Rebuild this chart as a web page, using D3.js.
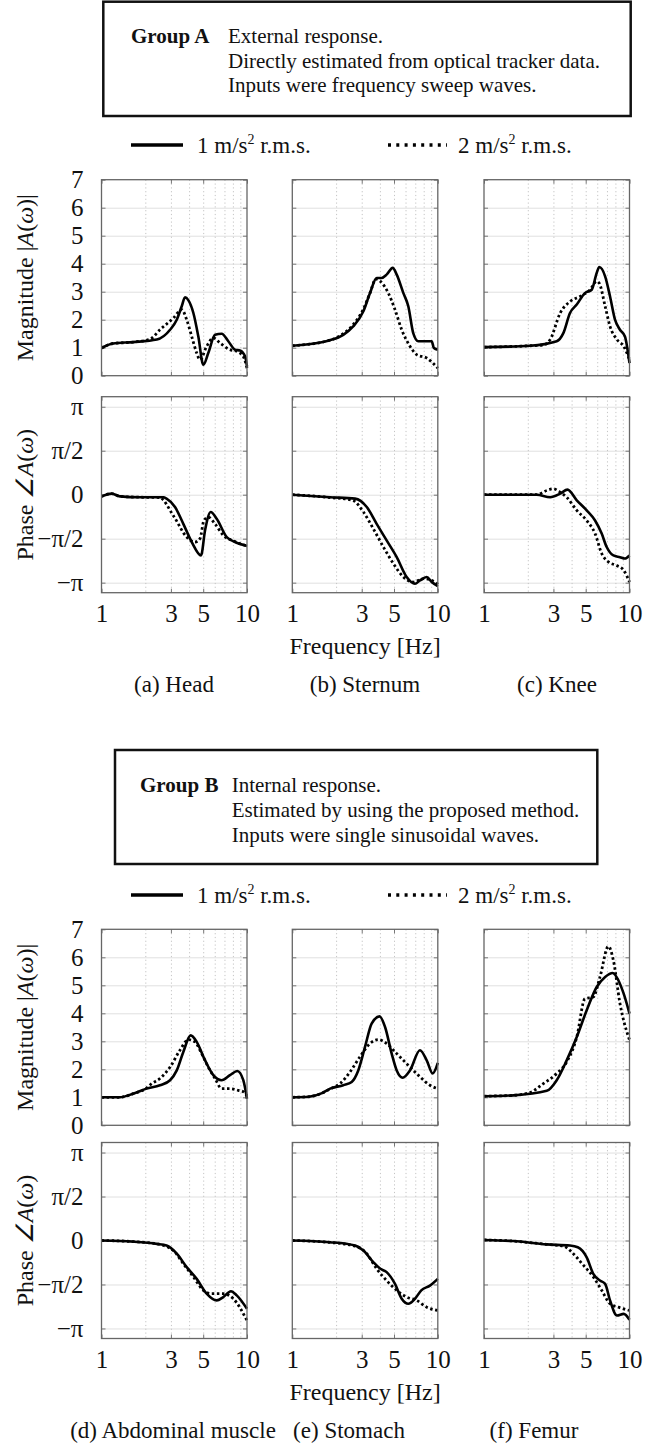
<!DOCTYPE html>
<html>
<head>
<meta charset="utf-8">
<script src="https://d3js.org/d3.v7.min.js"></script>
<style>
  body { margin: 0; background: #fff; }
  svg text { font-family: "Liberation Serif", "Times New Roman", serif; fill: #111; }
  .grid-h line { stroke: #e0e0e0; stroke-width: 1; }
  .grid-v line { stroke: #c4c4c4; stroke-width: 1; stroke-dasharray: 1.2 2.6; }
  .grid-h .domain, .grid-v .domain, .lbl .domain, .tk .domain { stroke: none; }
  .lbl text { font-size: 25px; font-family: "Liberation Serif", serif; }
  .tk line { stroke: #777; }
</style>
</head>
<body>
<svg id="fig" width="657" height="1445"></svg>
<script>
// ---- tick values / labels ----
const freqTicks = [1, 3, 5, 10];
const minorFreqs = [2, 3, 4, 5, 6, 7, 8, 9];
const magTicks = [0, 1, 2, 3, 4, 5, 6, 7];
const phaseTicks = [-Math.PI, -Math.PI / 2, 0, Math.PI / 2, Math.PI];
const phaseTickLabels = ['−π', '−π/2', '0', 'π/2', 'π'];
const seriesLabels = ['1', '2'];   // m/s² r.m.s.

// ---- Group A (external response) [freq Hz, value] ----
const headMag1 = [[1,0.99],[1.2,1.15],[1.65,1.2],[2.4,1.29],[2.96,1.64],[3.29,2.0],[3.56,2.48],[3.75,2.8],[3.95,2.7],[4.28,2.24],[4.63,1.4],[5.01,0.39],[5.42,0.81],[6.03,1.46],[6.7,1.5],[7.44,1.23],[8.27,0.93],[8.95,0.9],[9.7,0.69],[10,0.33]];
const headMag2 = [[1,0.99],[1.2,1.15],[1.65,1.2],[2.15,1.3],[2.52,1.64],[3.12,2.06],[3.56,2.36],[3.85,2.0],[4.17,1.4],[4.51,0.81],[4.75,0.57],[5.28,1.05],[5.87,1.35],[6.52,1.17],[7.64,0.93],[8.5,0.87],[9.43,0.69],[10,0.27]];
const headPh1 = [[1,-0.06],[1.175,0.04],[1.34,-0.06],[1.84,-0.09],[2.66,-0.09],[2.8,-0.14],[3.2,-0.44],[3.65,-1.04],[4.17,-1.69],[4.83,-2.17],[5.15,-1.27],[5.63,-0.62],[6.19,-0.86],[7.25,-1.51],[8.27,-1.69],[10,-1.83]];
const headPh2 = [[1,-0.06],[1.175,0.04],[1.34,-0.06],[1.84,-0.09],[2.5,-0.1],[3.12,-0.75],[3.85,-1.51],[4.39,-1.69],[4.75,-1.57],[5.06,-0.92],[5.42,-0.8],[6.03,-1.04],[6.87,-1.45],[8.05,-1.65],[10,-1.83]];

const sternumMag1 = [[1,1.07],[1.82,1.27],[2.24,1.46],[2.62,1.76],[3.08,2.3],[3.42,2.95],[3.8,3.49],[4.11,3.49],[4.45,3.61],[4.9,3.85],[5.22,3.61],[5.8,2.95],[6.27,2.48],[6.78,1.52],[7.34,1.23],[8.17,1.23],[9.08,1.23],[9.4,0.99],[10,0.93]];
const sternumMag2 = [[1,1.07],[1.82,1.27],[2.24,1.5],[2.62,1.82],[3.08,2.38],[3.42,2.95],[3.75,3.45],[4.03,3.37],[4.57,2.95],[5.08,2.36],[5.65,1.64],[6.44,1.05],[7.16,0.75],[8.39,0.63],[10,0.27]];
const sternumPh1 = [[1,0],[1.82,-0.09],[2.7,-0.14],[3.25,-0.44],[3.8,-1.04],[4.45,-1.63],[5.22,-2.23],[6.11,-2.94],[6.97,-3.18],[7.54,-3.06],[8.39,-2.94],[9.08,-3.12],[10,-3.27]];
const sternumPh2 = [[1,0],[1.82,-0.1],[2.6,-0.2],[3.08,-0.62],[3.6,-1.21],[4.23,-1.87],[4.95,-2.46],[5.8,-2.94],[6.78,-3.12],[8.0,-3.0],[9.9,-3.18],[10,-3.2]];

const kneeMag1 = [[1,1.02],[2.07,1.07],[3.16,1.23],[3.51,1.52],[3.9,2.24],[4.34,2.54],[4.94,2.95],[5.5,3.07],[5.95,3.67],[6.2,3.88],[6.8,3.55],[7.35,2.83],[7.95,2.0],[8.6,1.64],[9.3,1.4],[10,0.45]];
const kneeMag2 = [[1,1.02],[2.07,1.07],[2.56,1.1],[2.85,1.29],[3.34,2.24],[3.9,2.65],[4.57,2.83],[5.36,3.07],[5.95,3.37],[6.2,3.3],[6.8,2.48],[7.35,1.76],[8.2,1.29],[9.12,1.05],[10,0.57]];
const kneePh1 = [[1,0],[2.3,0],[2.85,-0.09],[3.34,0.04],[3.75,0.18],[4.34,-0.2],[5.08,-0.56],[5.8,-0.92],[6.44,-1.39],[6.97,-1.87],[7.75,-2.17],[8.6,-2.23],[9.3,-2.28],[10,-2.17]];
const kneePh2 = [[1,0],[2.3,0],[2.7,0.15],[2.99,0.21],[3.34,0.09],[3.7,-0.09],[4.34,-0.56],[5.08,-0.92],[5.8,-1.39],[6.44,-2.1],[7.16,-2.4],[8.17,-2.53],[9.12,-2.7],[10,-3.12]];

// ---- Group B (internal response) ----
const abdomenMag1 = [[1,1.0],[1.34,1.0],[1.65,1.13],[2.04,1.31],[2.52,1.43],[2.96,1.61],[3.29,1.96],[3.65,2.62],[4.1,3.21],[4.51,2.98],[5.15,2.32],[5.87,1.79],[6.7,1.61],[7.64,1.79],[8.58,1.94],[9.43,1.61],[10,0.95]];
const abdomenMag2 = [[1,1.0],[1.34,1.0],[1.65,1.13],[2.04,1.33],[2.2,1.48],[2.52,1.67],[2.96,2.08],[3.46,2.68],[3.95,3.06],[4.39,2.98],[4.88,2.56],[5.42,2.08],[6.03,1.67],[6.7,1.31],[7.64,1.31],[8.7,1.25],[9.43,1.2],[10,1.05]];
const abdomenPh1 = [[1,0],[1.65,-0.04],[2.4,-0.12],[2.8,-0.18],[3.29,-0.47],[3.85,-0.95],[4.51,-1.37],[5.28,-1.9],[6.19,-2.14],[6.87,-2.02],[7.76,-1.81],[8.5,-1.96],[10,-2.44]];
const abdomenPh2 = [[1,0],[1.65,-0.04],[2.4,-0.12],[3.12,-0.36],[3.65,-0.83],[4.28,-1.3],[5.01,-1.78],[5.72,-1.9],[6.87,-1.9],[8.05,-2.08],[10,-2.86]];

const stomachMag1 = [[1,1.0],[1.3,1.02],[1.6,1.15],[1.82,1.31],[2.24,1.43],[2.56,1.55],[2.84,1.96],[3.16,2.8],[3.51,3.63],[3.98,3.89],[4.34,3.51],[4.82,2.56],[5.22,1.96],[5.74,1.7],[6.44,1.96],[7.54,2.68],[8.39,2.32],[9.22,1.85],[10,2.23]];
const stomachMag2 = [[1,1.0],[1.3,1.02],[1.6,1.15],[1.82,1.3],[2.13,1.49],[2.49,1.9],[2.91,2.44],[3.42,2.92],[3.9,3.06],[4.45,2.92],[5.22,2.56],[6.44,2.08],[7.54,1.73],[8.83,1.43],[10,1.31]];
const stomachPh1 = [[1,0],[1.82,-0.06],[2.7,-0.18],[3.08,-0.36],[3.6,-0.77],[4.03,-1.01],[4.45,-1.13],[5.08,-1.55],[5.65,-2.08],[6.27,-2.26],[6.97,-2.08],[7.7,-1.78],[8.83,-1.61],[10,-1.37]];
const stomachPh2 = [[1,0],[1.82,-0.07],[2.7,-0.2],[3.25,-0.47],[3.8,-1.01],[4.45,-1.43],[5.22,-1.78],[6.11,-2.02],[7.16,-2.14],[8.39,-2.38],[10,-2.5]];

const femurMag1 = [[1,1.04],[1.59,1.07],[2.7,1.23],[3.16,1.61],[3.7,2.32],[4.34,3.15],[5.08,4.11],[5.95,4.94],[6.8,5.3],[7.67,5.44],[8.38,5.18],[9.12,4.7],[10,3.99]];
const femurMag2 = [[1,1.04],[1.59,1.07],[2.07,1.17],[2.56,1.49],[3.16,1.85],[3.7,2.26],[4.34,3.15],[4.94,4.52],[5.64,4.58],[6.27,5.3],[7.16,6.39],[7.75,5.89],[8.6,4.35],[9.85,3.15],[10,3.05]];
const femurPh1 = [[1,0.02],[1.59,-0.02],[2.7,-0.14],[3.9,-0.18],[4.41,-0.24],[5.08,-0.6],[5.64,-1.19],[6.27,-1.43],[6.8,-1.55],[7.35,-2.14],[8.2,-2.68],[9.12,-2.62],[10,-2.83]];
const femurPh2 = [[1,0.02],[1.59,-0.02],[2.7,-0.14],[3.51,-0.2],[4.11,-0.47],[4.72,-0.83],[5.64,-1.3],[6.44,-1.78],[7.35,-2.26],[8.38,-2.38],[10,-2.5]];

const captionsA = ['(a) Head', '(b) Sternum', '(c) Knee'];
const captionsB = ['(d) Abdominal muscle', '(e) Stomach', '(f) Femur'];
const boxTextA = ['External response.', 'Directly estimated from optical tracker data.', 'Inputs were frequency sweep waves.'];
const boxTextB = ['Internal response.', 'Estimated by using the proposed method.', 'Inputs were single sinusoidal waves.'];

// ---- layout ----
const svg = d3.select('#fig');
const colX = [101.5, 292.3, 484];
const pw = 145.5, ph = 196;

const groups = [
  { title: 'Group A', lines: boxTextA, box: [103.3, 1.7, 630.7, 116], tx: [131, 228], base: [43, 67.5, 91.7],
    legY: 145, magTop: 179.7, phTop: 396.7, caps: captionsA, capX: [174, 365, 557],
    mags: [[headMag1, headMag2], [sternumMag1, sternumMag2], [kneeMag1, kneeMag2]],
    phs: [[headPh1, headPh2], [sternumPh1, sternumPh2], [kneePh1, kneePh2]] },
  { title: 'Group B', lines: boxTextB, box: [115, 750, 597.3, 864], tx: [140, 231.7], base: [791.7, 816.7, 841.7],
    legY: 895, magTop: 929.3, phTop: 1142.5, caps: captionsB, capX: [173, 349, 534],
    mags: [[abdomenMag1, abdomenMag2], [stomachMag1, stomachMag2], [femurMag1, femurMag2]],
    phs: [[abdomenPh1, abdomenPh2], [stomachPh1, stomachPh2], [femurPh1, femurPh2]] }
];

const x = d3.scaleLog().domain([1, 10]).range([0, pw]);
const yMag = d3.scaleLinear().domain([0, 7]).range([ph, 0]);
const yPh = d3.scaleLinear().domain([-3.5, 3.5]).range([ph, 0]);

function drawPanel(g, y, yTicks, series, showY, yFmt) {
  // gridlines
  g.append('g').attr('class', 'grid-h')
    .call(d3.axisLeft(y).tickValues(yTicks.filter(v => Math.abs(v) < y.domain()[1] && v > y.domain()[0])).tickSize(-pw).tickFormat(''));
  g.append('g').attr('class', 'grid-v')
    .call(d3.axisBottom(x).tickValues(minorFreqs).tickSize(ph).tickFormat(''));

  // inward ticks on all sides
  g.append('g').attr('class', 'tk').call(d3.axisLeft(y).tickValues(yTicks).tickSize(-4).tickFormat(''));
  g.append('g').attr('class', 'tk').attr('transform', `translate(${pw},0)`)
    .call(d3.axisRight(y).tickValues(yTicks).tickSize(-4).tickFormat(''));
  g.append('g').attr('class', 'tk').call(d3.axisTop(x).tickValues(freqTicks).tickSize(-4).tickFormat(''));
  g.append('g').attr('class', 'tk').attr('transform', `translate(0,${ph})`)
    .call(d3.axisBottom(x).tickValues(freqTicks).tickSize(-4).tickFormat(''));

  if (showY) {
    g.append('g').attr('class', 'lbl')
      .call(d3.axisLeft(y).tickValues(yTicks).tickSize(0).tickPadding(18).tickFormat(yFmt))
      .selectAll('text').attr('fill', '#111');
  }

  const line = d3.line().x(d => x(d[0])).y(d => y(d[1])).curve(d3.curveMonotoneX);
  g.append('path').datum(series[1]).attr('d', line)
    .attr('fill', 'none').attr('stroke', '#000').attr('stroke-width', 2.8)
    .attr('stroke-dasharray', '2.5 2.6');
  g.append('path').datum(series[0]).attr('d', line)
    .attr('fill', 'none').attr('stroke', '#000').attr('stroke-width', 2.6)
    .attr('stroke-linejoin', 'round');

  g.append('rect').attr('width', pw).attr('height', ph)
    .attr('fill', 'none').attr('stroke', '#666').attr('stroke-width', 1.3);
}

function legendText(sel, label) {
  const t = sel;
  t.append('tspan').text(label + ' m/s');
  t.append('tspan').text('2').attr('font-size', 14).attr('dy', -9);
  t.append('tspan').text(' r.m.s.').attr('dy', 9);
}

groups.forEach((G, gi) => {
  const [bx0, by0, bx1, by1] = G.box;
  svg.append('rect').attr('x', bx0).attr('y', by0).attr('width', bx1 - bx0).attr('height', by1 - by0)
    .attr('fill', 'none').attr('stroke', '#111').attr('stroke-width', 2.5);
  svg.append('text').attr('x', G.tx[0]).attr('y', G.base[0]).attr('font-size', 21)
    .attr('font-weight', 'bold').text(G.title);
  G.lines.forEach((s, i) => {
    svg.append('text').attr('x', G.tx[1]).attr('y', G.base[i]).attr('font-size', 21).text(s);
  });

  // legend
  svg.append('line').attr('x1', 131).attr('x2', 183).attr('y1', G.legY).attr('y2', G.legY)
    .attr('stroke', '#000').attr('stroke-width', 3.5);
  legendText(svg.append('text').attr('x', 197).attr('y', G.legY + 8).attr('font-size', 23), seriesLabels[0]);
  svg.append('line').attr('x1', 388).attr('x2', 447).attr('y1', G.legY).attr('y2', G.legY)
    .attr('stroke', '#000').attr('stroke-width', 3.5).attr('stroke-dasharray', '3 5.3');
  legendText(svg.append('text').attr('x', 458).attr('y', G.legY + 8).attr('font-size', 23), seriesLabels[1]);

  colX.forEach((cx, ci) => {
    const gm = svg.append('g').attr('transform', `translate(${cx},${G.magTop})`);
    drawPanel(gm, yMag, magTicks, G.mags[ci], ci === 0, d3.format('d'));
    const gp = svg.append('g').attr('transform', `translate(${cx},${G.phTop})`);
    drawPanel(gp, yPh, phaseTicks, G.phs[ci], ci === 0, (d, i) => phaseTickLabels[i]);

    // x tick labels
    gp.append('g').attr('class', 'lbl').attr('transform', `translate(0,${ph})`)
      .call(d3.axisBottom(x).tickValues(freqTicks).tickSize(0).tickPadding(12).tickFormat(d3.format('d')))
      .selectAll('text').attr('fill', '#111');

    svg.append('text').attr('x', G.capX[ci]).attr('y', G.phTop + ph + 99)
      .attr('text-anchor', 'middle').attr('font-size', 23).text(G.caps[ci]);
  });

  svg.append('text').attr('x', colX[1] + pw / 2).attr('y', G.phTop + ph + 61)
    .attr('text-anchor', 'middle').attr('font-size', 24).text('Frequency [Hz]');

  // rotated y labels
  const ym = svg.append('text').attr('font-size', 24).attr('text-anchor', 'middle')
    .attr('transform', `translate(33,${G.magTop + ph / 2}) rotate(-90)`);
  ym.append('tspan').text('Magnitude  |');
  ym.append('tspan').text('A').attr('font-style', 'italic');
  ym.append('tspan').text('(');
  ym.append('tspan').text('ω').attr('font-style', 'italic');
  ym.append('tspan').text(')|');

  const yp = svg.append('text').attr('font-size', 24).attr('text-anchor', 'middle')
    .attr('transform', `translate(33,${G.phTop + ph / 2}) rotate(-90)`);
  yp.append('tspan').text('Phase  ');
  yp.append('tspan').text('∠A').attr('font-style', 'italic');
  yp.append('tspan').text('(');
  yp.append('tspan').text('ω').attr('font-style', 'italic');
  yp.append('tspan').text(')');
});
</script>
</body>
</html>
